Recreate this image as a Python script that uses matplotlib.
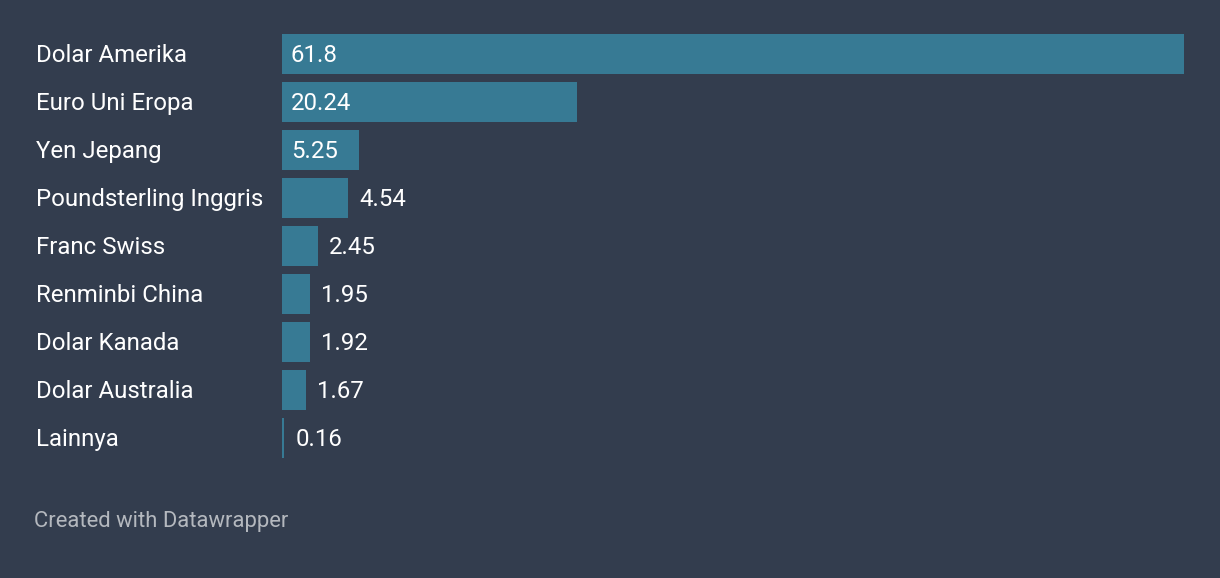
import matplotlib.pyplot as plt
from matplotlib.transforms import offset_copy

plt.rcParams["font.family"] = ["Roboto", "DejaVu Sans"]

# data
currencies = [
    "Dolar Amerika",
    "Euro Uni Eropa",
    "Yen Jepang",
    "Poundsterling Inggris",
    "Franc Swiss",
    "Renminbi China",
    "Dolar Kanada",
    "Dolar Australia",
    "Lainnya",
]
shares = [61.8, 20.24, 5.25, 4.54, 2.45, 1.95, 1.92, 1.67, 0.16]
share_labels = ["61.8", "20.24", "5.25", "4.54", "2.45", "1.95", "1.92", "1.67", "0.16"]

BG = "#333d4e"
BAR = "#377a94"
FS = 17.3

W, H = 1220, 578
fig = plt.figure(figsize=(W / 100, H / 100), dpi=100, facecolor=BG)

# axes in pixel coords: bars from x=282 to 1184, rows 48px tall starting at y=30
left, right, top = 282, 1184, 30
n = len(currencies)
ax = fig.add_axes([left / W, 1 - (top + 48 * n) / H, (right - left) / W, 48 * n / H])
ax.set_facecolor(BG)
ax.set_xlim(0, max(shares))
ax.set_ylim(n - 0.5, -0.5)
ax.axis("off")

ys = list(range(n))
ax.barh(ys, shares, height=40 / 48, color=BAR, linewidth=0)

for y, name, v, lab in zip(ys, currencies, shares, share_labels):
    # category label at fixed figure x
    fig.text(36 / W, 1 - (55.5 + 48 * y) / H, name, color="white", fontsize=FS,
             ha="left", va="center")
    if v >= 5:
        tr = offset_copy(ax.transData, fig=fig, x=9, y=-1.5, units="dots")
        ax.text(0, y, lab, transform=tr, color="white", fontsize=FS,
                ha="left", va="center")
    else:
        tr = offset_copy(ax.transData, fig=fig, x=11, y=-1.5, units="dots")
        ax.text(v, y, lab, transform=tr, color="white", fontsize=FS,
                ha="left", va="center")

fig.text(34 / W, 1 - 522 / H, "Created with Datawrapper", color="#b4b8be",
         fontsize=15.8, ha="left", va="center")

fig.savefig("out.png", dpi=100, facecolor=BG)
